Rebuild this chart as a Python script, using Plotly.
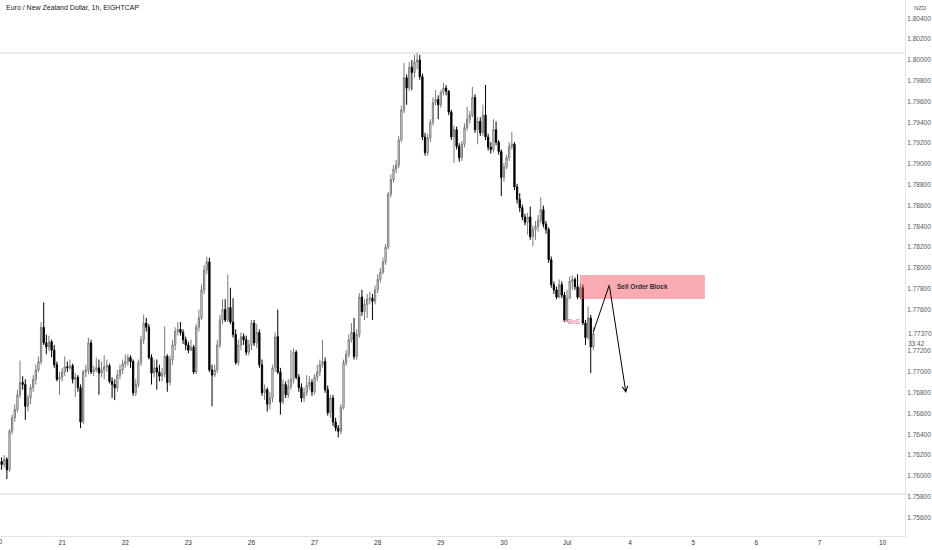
import plotly.graph_objects as go

# ---------------- data (EUR/NZD, 1h candles, bar index from 20 Jun 00:00) ----------------
first_open = 1.7606
closes = [1.7614,1.7611,1.7616,1.7606,1.7643,1.7656,1.7664,1.7678,1.7690,1.7688,
          1.7667,1.7675,1.7685,1.7693,1.7702,1.7710,1.7743,1.7728,1.7724,1.7729,
          1.7721,1.7707,1.7693,1.7695,1.7700,1.7705,1.7704,1.7706,1.7693,1.7695,
          1.7685,1.7652,1.7700,1.7702,1.7728,1.7700,1.7702,1.7704,1.7699,1.7702,
          1.7705,1.7706,1.7691,1.7688,1.7685,1.7697,1.7702,1.7708,1.7710,1.7714,
          1.7710,1.7680,1.7688,1.7709,1.7731,1.7747,1.7743,1.7714,1.7699,1.7704,
          1.7700,1.7696,1.7698,1.7715,1.7690,1.7712,1.7726,1.7739,1.7741,1.7738,
          1.7731,1.7726,1.7721,1.7724,1.7700,1.7743,1.7752,1.7779,1.7798,1.7806,
          1.7702,1.7697,1.7702,1.7726,1.7750,1.7760,1.7750,1.7762,1.7748,1.7736,
          1.7709,1.7726,1.7734,1.7731,1.7719,1.7726,1.7747,1.7728,1.7738,1.7707,
          1.7680,1.7683,1.7669,1.7675,1.7704,1.7734,1.7700,1.7671,1.7688,1.7678,
          1.7686,1.7693,1.7719,1.7695,1.7685,1.7675,1.7680,1.7687,1.7690,1.7681,
          1.7695,1.7700,1.7707,1.7710,1.7683,1.7661,1.7675,1.7652,1.7646,1.7643,
          1.7666,1.7709,1.7717,1.7731,1.7738,1.7715,1.7736,1.7772,1.7758,1.7765,
          1.7770,1.7771,1.7768,1.7779,1.7789,1.7796,1.7806,1.7820,1.7871,1.7885,
          1.7895,1.7899,1.7923,1.7952,1.7983,1.7973,1.7993,1.7988,1.7998,1.8000,
          1.7984,1.7926,1.7911,1.7925,1.7940,1.7959,1.7962,1.7957,1.7969,1.7973,
          1.7970,1.7950,1.7926,1.7933,1.7917,1.7906,1.7919,1.7935,1.7943,1.7947,
          1.7964,1.7933,1.7941,1.7930,1.7947,1.7926,1.7916,1.7914,1.7933,1.7921,
          1.7912,1.7887,1.7897,1.7906,1.7917,1.7919,1.7878,1.7866,1.7858,1.7849,
          1.7844,1.7849,1.7830,1.7837,1.7840,1.7846,1.7856,1.7842,1.7837,1.7808,
          1.7784,1.7779,1.7772,1.7784,1.7774,1.7750,1.7771,1.7787,1.7789,1.7782,
          1.7772,1.7781,1.7747,1.7733,1.7752,1.7724,1.7737]
highs = [1.7618,1.7618,1.7620,1.7618,1.7645,1.7659,1.7669,1.7683,1.7711,1.7696,
         1.7693,1.7678,1.7688,1.7697,1.7707,1.7715,1.7748,1.7767,1.7736,1.7735,
         1.7731,1.7726,1.7710,1.7700,1.7704,1.7715,1.7710,1.7712,1.7708,1.7699,
         1.7697,1.7688,1.7702,1.7707,1.7733,1.7731,1.7706,1.7714,1.7712,1.7710,
         1.7716,1.7712,1.7708,1.7695,1.7693,1.7702,1.7707,1.7712,1.7717,1.7717,
         1.7716,1.7712,1.7693,1.7712,1.7735,1.7755,1.7752,1.7746,1.7717,1.7712,
         1.7712,1.7707,1.7704,1.7744,1.7717,1.7716,1.7731,1.7743,1.7748,1.7748,
         1.7741,1.7734,1.7729,1.7731,1.7726,1.7746,1.7760,1.7784,1.7803,1.7811,
         1.7810,1.7707,1.7707,1.7731,1.7755,1.7770,1.7770,1.7794,1.7781,1.7771,
         1.7741,1.7731,1.7738,1.7737,1.7735,1.7731,1.7750,1.7750,1.7746,1.7741,
         1.7712,1.7688,1.7685,1.7681,1.7707,1.7738,1.7760,1.7704,1.7693,1.7691,
         1.7693,1.7721,1.7723,1.7721,1.7698,1.7689,1.7685,1.7697,1.7696,1.7693,
         1.7698,1.7707,1.7712,1.7731,1.7714,1.7687,1.7678,1.7678,1.7656,1.7649,
         1.7669,1.7712,1.7721,1.7736,1.7747,1.7752,1.7741,1.7776,1.7779,1.7770,
         1.7775,1.7777,1.7775,1.7783,1.7794,1.7800,1.7810,1.7823,1.7873,1.7890,
         1.7899,1.7904,1.7927,1.7956,1.7997,1.7986,1.7998,1.8000,1.8005,1.8007,
         1.8005,1.7987,1.7930,1.7929,1.7943,1.7964,1.7971,1.7966,1.7971,1.7978,
         1.7976,1.7971,1.7952,1.7937,1.7936,1.7920,1.7922,1.7939,1.7955,1.7951,
         1.7974,1.7967,1.7945,1.7945,1.7957,1.7976,1.7929,1.7921,1.7943,1.7941,
         1.7923,1.7914,1.7901,1.7909,1.7921,1.7931,1.7921,1.7881,1.7872,1.7861,
         1.7852,1.7853,1.7859,1.7841,1.7845,1.7851,1.7868,1.7860,1.7845,1.7839,
         1.7811,1.7787,1.7782,1.7789,1.7787,1.7777,1.7779,1.7792,1.7793,1.7791,
         1.7794,1.7785,1.7784,1.7750,1.7763,1.7755,1.7743]
lows = [1.7584,1.7606,1.7608,1.7597,1.7604,1.7640,1.7652,1.7661,1.7675,1.7683,
        1.7654,1.7662,1.7669,1.7681,1.7688,1.7700,1.7707,1.7726,1.7717,1.7720,
        1.7714,1.7704,1.7691,1.7678,1.7691,1.7696,1.7700,1.7702,1.7689,1.7676,
        1.7681,1.7646,1.7650,1.7695,1.7698,1.7698,1.7696,1.7700,1.7678,1.7695,
        1.7693,1.7700,1.7689,1.7675,1.7673,1.7681,1.7693,1.7698,1.7704,1.7706,
        1.7704,1.7677,1.7677,1.7685,1.7706,1.7727,1.7739,1.7712,1.7688,1.7695,
        1.7683,1.7691,1.7691,1.7695,1.7681,1.7687,1.7707,1.7721,1.7735,1.7735,
        1.7727,1.7721,1.7718,1.7720,1.7698,1.7698,1.7739,1.7750,1.7775,1.7794,
        1.7700,1.7667,1.7695,1.7699,1.7723,1.7746,1.7748,1.7748,1.7746,1.7733,
        1.7707,1.7706,1.7721,1.7726,1.7716,1.7716,1.7721,1.7725,1.7723,1.7704,
        1.7677,1.7673,1.7662,1.7664,1.7671,1.7700,1.7698,1.7659,1.7669,1.7675,
        1.7675,1.7683,1.7689,1.7693,1.7681,1.7671,1.7671,1.7677,1.7683,1.7677,
        1.7678,1.7691,1.7696,1.7704,1.7680,1.7658,1.7656,1.7648,1.7643,1.7637,
        1.7640,1.7664,1.7706,1.7714,1.7728,1.7712,1.7712,1.7733,1.7754,1.7750,
        1.7752,1.7765,1.7750,1.7765,1.7776,1.7786,1.7794,1.7803,1.7818,1.7868,
        1.7882,1.7891,1.7896,1.7921,1.7949,1.7957,1.7970,1.7971,1.7983,1.7991,
        1.7981,1.7923,1.7908,1.7908,1.7921,1.7937,1.7956,1.7943,1.7954,1.7966,
        1.7966,1.7947,1.7923,1.7901,1.7914,1.7902,1.7903,1.7916,1.7932,1.7939,
        1.7945,1.7930,1.7919,1.7927,1.7927,1.7923,1.7913,1.7910,1.7911,1.7918,
        1.7909,1.7869,1.7883,1.7895,1.7903,1.7914,1.7875,1.7862,1.7854,1.7846,
        1.7841,1.7832,1.7827,1.7821,1.7827,1.7835,1.7843,1.7839,1.7833,1.7805,
        1.7781,1.7775,1.7770,1.7771,1.7771,1.7748,1.7748,1.7770,1.7779,1.7779,
        1.7770,1.7770,1.7745,1.7726,1.7731,1.7699,1.7721]
opens = [first_open] + closes[:-1]
bars = list(range(len(closes)))

# x-axis day labels (bar index of each day's first hour)
day_ticks = [0, 24, 48, 72, 96, 120, 144, 168, 192, 216, 240, 264, 288, 312, 336]
day_labels = ["20", "21", "22", "23", "26", "27", "28", "29", "30", "Jul", "4", "5", "6", "7", "10"]

# price scale ticks
price_ticks = [1.756, 1.758, 1.760, 1.762, 1.764, 1.766, 1.768, 1.770, 1.772, 1.776,
               1.778, 1.780, 1.782, 1.784, 1.786, 1.788, 1.790, 1.792, 1.794, 1.796,
               1.798, 1.800, 1.802, 1.804]
price_labels = ["%.5f" % p for p in price_ticks]

# drawings
range_high = 1.80067
range_low = 1.75827
ob_x = [220.9, 268.4]
ob_y = [1.77702, 1.77933]
ob_label = "Sell Order Block"
path_x = [226.0, 232.05, 238.4]
path_y = [1.77385, 1.77837, 1.76798]
bos_x = [214.4, 216.1]
bos_y = 1.77490
last_price = "1.77370"
countdown = "33:42"
title = "Euro / New Zealand Dollar, 1h, EIGHTCAP"

FONT = "Liberation Sans"
X_RANGE = [0.38, 344.5]

fig = go.Figure()
fig.add_trace(go.Candlestick(
    x=bars, open=opens, high=highs, low=lows, close=closes,
    increasing=dict(line=dict(color="#7a7a7a", width=1), fillcolor="#ffffff"),
    decreasing=dict(line=dict(color="#000000", width=1), fillcolor="#000000"),
    hoverinfo="skip", showlegend=False,
))

shapes = [
    dict(type="line", xref="paper", x0=0, x1=1, yref="y", y0=range_high, y1=range_high,
         line=dict(color="#d6d6d6", width=1), layer="below"),
    dict(type="line", xref="paper", x0=0, x1=1, yref="y", y0=range_low, y1=range_low,
         line=dict(color="#d6d6d6", width=1), layer="below"),
    dict(type="rect", xref="x", yref="y", x0=ob_x[0], x1=ob_x[1], y0=ob_y[0], y1=ob_y[1],
         fillcolor="rgba(242,54,69,0.42)", line=dict(width=0), layer="above"),
    dict(type="line", xref="x", yref="y", x0=path_x[0], y0=path_y[0], x1=path_x[1], y1=path_y[1],
         line=dict(color="#000000", width=1)),
    dict(type="line", xref="x", yref="y", x0=bos_x[0], x1=bos_x[1], y0=bos_y, y1=bos_y,
         line=dict(color="#f06a84", width=1)),
]

# first day label sits just left of the pane (partly cut, as in the reference)
first_label_paper = (day_ticks[0] - X_RANGE[0]) / (X_RANGE[1] - X_RANGE[0])

annotations = [
    dict(x=path_x[2], y=path_y[2], ax=path_x[1], ay=path_y[1], xref="x", yref="y",
         axref="x", ayref="y", text="", showarrow=True, arrowhead=5, arrowsize=1.1,
         arrowwidth=1, arrowcolor="#000000"),
    dict(x=(ob_x[0] + ob_x[1]) / 2, y=(ob_y[0] + ob_y[1]) / 2, xref="x", yref="y",
         text="<b>" + ob_label + "</b>", showarrow=False,
         font=dict(family=FONT, size=6.5, color="#2a2e39")),
    dict(x=bos_x[1], y=bos_y, xref="x", yref="y", text="BoS", showarrow=False,
         xanchor="left", borderpad=0, xshift=0,
         font=dict(family=FONT, size=6.3, color="#ee5a78")),
    dict(x=first_label_paper, y=0, xref="paper", yref="paper", text=day_labels[0],
         showarrow=False, xanchor="center", yanchor="top", yshift=-1, borderpad=0,
         font=dict(family=FONT, size=6.5, color="#333333")),
    dict(x=0.0045, y=1 - 7 / 536, xref="paper", yref="paper", text=title, showarrow=False,
         xanchor="left", yanchor="middle", font=dict(family=FONT, size=7, color="#131722")),
    dict(x=912 / 905, y=1 - 8 / 536, xref="paper", yref="paper", text="NZD", showarrow=False,
         xanchor="left", yanchor="middle", font=dict(family=FONT, size=6, color="#555555")),
    dict(x=905 / 905, y=float(last_price), xref="paper", yref="y", text=last_price,
         showarrow=False, xanchor="left", yanchor="middle", xshift=1,
         font=dict(family=FONT, size=6.5, color="#555555")),
    dict(x=905 / 905, y=float(last_price), xref="paper", yref="y", text=countdown,
         showarrow=False, xanchor="left", yanchor="middle", yshift=-10, xshift=1,
         font=dict(family=FONT, size=6.5, color="#555555")),
]

fig.update_layout(
    width=932, height=550,
    margin=dict(l=0, r=27, t=0, b=14),
    paper_bgcolor="#ffffff", plot_bgcolor="#ffffff",
    shapes=shapes, annotations=annotations,
    showlegend=False, hovermode=False,
    xaxis=dict(range=X_RANGE, rangeslider=dict(visible=False),
               tickmode="array", tickvals=day_ticks[1:], ticktext=day_labels[1:],
               ticklabeloverflow="allow",
               showgrid=False, zeroline=False, showline=True, linecolor="#e0e3eb",
               linewidth=1, ticks="", tickfont=dict(family=FONT, size=6.5, color="#333333")),
    yaxis=dict(range=[1.754231, 1.805769], side="right", tickmode="array",
               tickvals=price_ticks, ticktext=price_labels, showgrid=False,
               ticklabeloverflow="allow",
               zeroline=False, showline=True, linecolor="#e0e3eb", linewidth=1,
               ticks="", tickfont=dict(family=FONT, size=6.5, color="#555555")),
)

fig.write_html(
    "out.html",
    config={"displayModeBar": False, "staticPlot": True},
    post_script="document.body.style.margin='0';document.body.style.overflow='hidden';",
)
